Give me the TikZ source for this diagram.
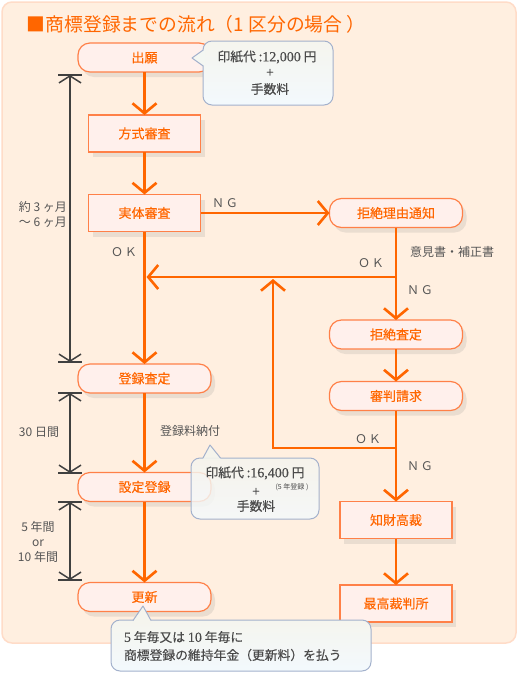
\documentclass[tikz,border=0pt]{standalone}
\usepackage{fontspec}
\setmainfont{Noto Sans CJK JP}
\newfontfamily\medfont{Noto Sans CJK JP}[FakeBold=0.35]
\newfontfamily\serifnum{Liberation Serif}[FakeBold=0.35]
\usetikzlibrary{arrows.meta,shadows}
\definecolor{bgc}{HTML}{FFEFE0}
\definecolor{bgb}{HTML}{FFDCC8}
\definecolor{org}{HTML}{FF6600}
\definecolor{nodefill}{HTML}{FFF0EC}
\definecolor{nodeb}{HTML}{FF8048}
\definecolor{txtg}{HTML}{555555}
\definecolor{ctxtg}{HTML}{4A4A4A}
\definecolor{dimc}{HTML}{404040}
\definecolor{calt}{HTML}{F5F5EE}
\definecolor{calm}{HTML}{F4F7F2}
\definecolor{calbot}{HTML}{F3F9FD}
\definecolor{calb}{HTML}{A3B1CC}
\begin{document}
\begin{tikzpicture}[x=1pt,y=-1pt,
  every node/.style={inner sep=0pt,outer sep=0pt},
  basenode/.style={draw=nodeb,line width=1.2pt,fill=nodefill,text=org,
    font=\medfont\fontsize{13}{15}\selectfont,
    drop shadow={opacity=0.16,shadow xshift=4pt,shadow yshift=-5pt}},
  rnode/.style={basenode,rounded corners=12pt,minimum width=133pt,minimum height=29pt},
  bnode/.style={basenode,minimum width=112pt,minimum height=37pt},
  flow/.style={draw=org,line width=2.6pt,-{Straight Barb[length=10pt,width=24pt]}},
  dimarrow/.style={draw=dimc,line width=1.5pt,
    {Straight Barb[length=7pt,width=22pt]}-{Straight Barb[length=7pt,width=22pt]}},
  dimbar/.style={draw=dimc,line width=1.5pt},
  glabel/.style={text=txtg,font=\fontsize{12}{15}\selectfont},
  callbox/.style={draw=calb,line width=1pt,rounded corners=9pt,top color=calt,bottom color=calbot},
  ctext/.style={text=ctxtg,font=\medfont\fontsize{12.8}{14}\selectfont},
]
\useasboundingbox (0,0) rectangle (518,673);
% background panel
\draw[fill=bgc,draw=bgb,line width=1.5pt,rounded corners=10pt] (2,2) rectangle (516,643);
% title
\node[anchor=west,text=org,font=\fontsize{18.8}{20}\selectfont] (title) at (27,24) {■商標登録までの流れ（1 区分の場合 ）};

% nodes
\node[rnode] (n1) at (144.5,57.5) {出願};
\node[bnode] (n2) at (144.5,133.5) {方式審査};
\node[bnode] (n3) at (144.5,213) {実体審査};
\node[rnode] (n4) at (396,213) {拒絶理由通知};
\node[rnode] (n5) at (396,334.5) {拒絶査定};
\node[rnode] (n6) at (396,396) {審判請求};
\node[rnode] (n7) at (144.5,378.5) {登録査定};
\node[rnode] (n8) at (144.5,487) {設定登録};
\node[rnode] (n9) at (144.5,597) {更新};
\node[bnode] (n10) at (396,520) {知財高裁};
\node[bnode] (n11) at (396,603.5) {最高裁判所};

% connectors
\draw[flow] (n1) -- (n2);
\draw[flow] (n2) -- (n3);
\draw[flow] (n3) -- (n4);
\draw[flow] (n3) -- (n7);
\draw[flow] (n4) -- (n5);
\draw[flow] (n5) -- (n6);
\draw[flow] (n6) -- (n10);
\draw[flow] (n10) -- (n11);
\draw[flow] (n7) -- (n8);
\draw[flow] (n8) -- (n9);
\coordinate (okA) at (396,277);
\coordinate (okAend) at (146.5,277);
\draw[flow] (okA) -- (okAend);
\coordinate (okB) at (396,448);
\coordinate (okBturn) at (273,448);
\coordinate (okBend) at (273,279);
\draw[flow] (okB) -- (okBturn) -- (okBend);

% connector labels
\node[glabel] (lng1) at (225,203) {Ｎ\,Ｇ};
\node[glabel] (lok1) at (124,252) {Ｏ\,Ｋ};
\node[glabel] (liken) at (452,252) {意見書・補正書};
\node[glabel] (lok2) at (371,263) {Ｏ\,Ｋ};
\node[glabel] (lng2) at (420,290) {Ｎ\,Ｇ};
\node[glabel] (lok3) at (368,439) {Ｏ\,Ｋ};
\node[glabel] (lng3) at (420,466) {Ｎ\,Ｇ};
\node[glabel] (lpay) at (190,431) {登録料納付};

% dimension lines
\coordinate (d1t) at (70,75);
\coordinate (d1b) at (70,362);
\coordinate (d2t) at (70,393);
\coordinate (d2b) at (70,473);
\coordinate (d3t) at (70,502);
\coordinate (d3b) at (70,580);
\foreach \p in {d1t,d1b,d2t,d2b,d3t,d3b}{
  \draw[dimbar] ([xshift=-12pt]\p) -- ([xshift=12pt]\p);
}
\draw[dimarrow] (d1t) -- (d1b);
\draw[dimarrow] (d2t) -- (d2b);
\draw[dimarrow] (d3t) -- (d3b);
\node[glabel,align=right,anchor=east] (dl1) at (67,214.5) {約 3 ヶ月\\～ 6 ヶ月};
\node[glabel] (dl2) at (39,432) {30 日間};
\node[glabel,align=center] (dl3) at (38,541.5) {5 年間\\or\\10 年間};

% callout 1
\node[callbox,minimum width=130pt,minimum height=64pt] (c1) at (268,73) {};
\fill[calm] (205,49.5) -- (192,58) -- (205,66.5) -- cycle;
\draw[calb,line width=1pt,line join=round] (203.2,50) -- (192,58) -- (203.2,66);
\node[ctext] (c1a) at (267,57) {印紙代 :{\serifnum\fontsize{14}{14}\selectfont 12,000} 円};
\node[ctext] (c1b) at (270,73) {+};
\node[ctext] (c1c) at (270,89) {手数料};

% callout 2
\node[callbox,fill opacity=0.82,minimum width=128pt,minimum height=61pt] (c2) at (255,488.5) {};
\fill[calt,fill opacity=0.9] (202.5,460) -- (210,445) -- (221.5,460) -- cycle;
\draw[calb,line width=1pt,line join=round] (203,458) -- (210,445) -- (220.5,458);
\node[ctext] (c2a) at (255,473) {印紙代 :{\serifnum\fontsize{14}{14}\selectfont 16,400} 円};
\node[text=ctxtg,font=\fontsize{7}{8}\selectfont] (c2s) at (292,487) {(5 年登録 )};
\node[ctext] (c2b) at (256,492) {+};
\node[ctext] (c2c) at (256,506) {手数料};

% callout 3
\node[callbox,minimum width=260pt,minimum height=51pt] (c3) at (241,645.5) {};
\fill[calt] (132,623) -- (143,606) -- (152,623) -- cycle;
\draw[calb,line width=1pt,line join=round] (133,620.5) -- (143,606) -- (151,620.5);
\node[ctext,anchor=west] (c3a) at (124,637) {{\serifnum\fontsize{14}{14}\selectfont 5} 年毎又は {\serifnum\fontsize{14}{14}\selectfont 10} 年毎に};
\node[ctext,anchor=west] (c3b) at (124,655) {商標登録の維持年金（更新料）を払う};
\end{tikzpicture}
\end{document}
